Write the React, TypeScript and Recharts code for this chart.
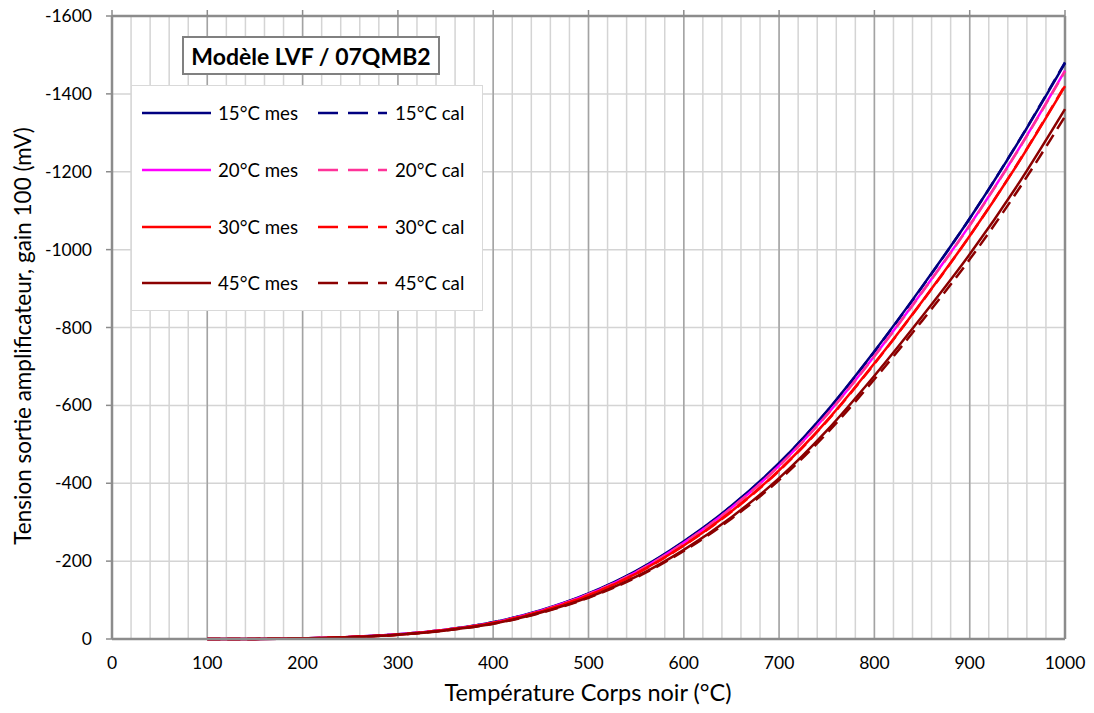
import React from 'react';
import { LineChart, Line, XAxis, YAxis, CartesianGrid, ReferenceLine } from 'recharts';

const temperatures = [100, 150, 200, 250, 300, 350, 400, 450, 500, 550, 600, 650, 700, 750, 800, 850, 900, 950, 1000];
const mes15 = [0, -0.3, -1.5, -5, -12, -24, -43, -74, -117, -175, -251, -342, -452, -585, -739, -905, -1080, -1272, -1479];
const cal15 = [0, -0.3, -1.5, -5, -12, -24, -43, -73, -116, -174, -250, -341, -451, -584, -738, -904, -1080, -1273, -1481];
const mes20 = [0, -0.3, -1.5, -5, -12, -24, -42, -73, -115, -172, -247, -337, -445, -576, -727, -891, -1063, -1253, -1460];
const cal20 = [0, -0.3, -1.5, -5, -12, -24, -42, -72, -115, -172, -246, -336, -444, -575, -726, -890, -1062, -1252, -1458];
const mes30 = [0, -0.3, -1.4, -5, -11, -23, -41, -71, -112, -168, -240, -328, -433, -560, -708, -867, -1035, -1219, -1420];
const cal30 = [0, -0.3, -1.4, -5, -11, -23, -41, -71, -112, -167, -240, -327, -432, -559, -707, -866, -1035, -1220, -1422];
const mes45 = [0, -0.3, -1.3, -4.5, -11, -22, -39, -68, -107, -160, -229, -313, -413, -535, -676, -828, -988, -1165, -1361];
const cal45 = [0, -0.3, -1.3, -4.5, -11, -22, -39, -67, -106, -158, -226, -309, -408, -528, -667, -817, -975, -1150, -1342];

const xMajorTicks = [0, 100, 200, 300, 400, 500, 600, 700, 800, 900, 1000];
const xMinorTicks = [0, 20, 40, 60, 80, 100, 120, 140, 160, 180, 200, 220, 240, 260, 280, 300, 320, 340, 360, 380, 400, 420, 440, 460, 480, 500, 520, 540, 560, 580, 600, 620, 640, 660, 680, 700, 720, 740, 760, 780, 800, 820, 840, 860, 880, 900, 920, 940, 960, 980, 1000];
const yTicks = [-1600, -1400, -1200, -1000, -800, -600, -400, -200, 0];

const seriesDefs = [
  { key: 'mes15', name: '15°C mes', values: mes15, color: '#000080', dashed: false },
  { key: 'cal15', name: '15°C cal', values: cal15, color: '#000080', dashed: true },
  { key: 'mes20', name: '20°C mes', values: mes20, color: '#FF00FF', dashed: false },
  { key: 'cal20', name: '20°C cal', values: cal20, color: '#FF3399', dashed: true },
  { key: 'mes30', name: '30°C mes', values: mes30, color: '#FF0000', dashed: false },
  { key: 'cal30', name: '30°C cal', values: cal30, color: '#FF0000', dashed: true },
  { key: 'mes45', name: '45°C mes', values: mes45, color: '#8B0000', dashed: false },
  { key: 'cal45', name: '45°C cal', values: cal45, color: '#8B0000', dashed: true },
];

const data = temperatures.map((t, i) => {
  const row: Record<string, number> = { t };
  seriesDefs.forEach((s) => {
    row[s.key] = s.values[i];
  });
  return row;
});

const FONT = 'Lato, "Open Sans", sans-serif';
const AXIS_GRAY = '#8c8c8c';

const XTick = (props: any) => {
  const { x, y, payload } = props;
  if (payload.value % 100 !== 0) return <g />;
  return (
    <text x={x} y={y} dy={22} textAnchor="middle" fontFamily={FONT} fontSize={17.5} fill="#000">
      {payload.value}
    </text>
  );
};

const YTick = (props: any) => {
  const { x, y, payload } = props;
  return (
    <text x={x - 12} y={y} dy={6} textAnchor="end" fontFamily={FONT} fontSize={17.5} fill="#000">
      {payload.value}
    </text>
  );
};

const EmptyTick = () => <g />;

const legendRows = [
  ['mes15', 'cal15'],
  ['mes20', 'cal20'],
  ['mes30', 'cal30'],
  ['mes45', 'cal45'],
];
const rowY = [113, 170, 227, 283];

export default function App() {
  return (
    <div style={{ position: 'absolute', left: 0, top: 0, width: 1094, height: 713, background: '#fff', fontFamily: FONT }}>
      <LineChart width={1094} height={713} data={data} margin={{ top: 0, right: 29, bottom: 0, left: 0 }}>
        <CartesianGrid stroke="#d4d4d4" strokeWidth={1.5} />
        {xMajorTicks.map((v) => (
          <ReferenceLine key={'maj' + v} x={v} stroke="#a3a3a3" strokeWidth={1.5} />
        ))}
        <XAxis
          dataKey="t"
          type="number"
          domain={[0, 1000]}
          ticks={xMinorTicks}
          interval={0}
          tick={<XTick />}
          tickLine={false}
          axisLine={{ stroke: AXIS_GRAY, strokeWidth: 2.5 }}
          height={74}
        />
        <XAxis
          xAxisId="top"
          orientation="top"
          dataKey="t"
          type="number"
          domain={[0, 1000]}
          ticks={xMajorTicks}
          interval={0}
          tick={<EmptyTick />}
          tickSize={6}
          tickLine={{ stroke: AXIS_GRAY, strokeWidth: 1.5 }}
          axisLine={{ stroke: AXIS_GRAY, strokeWidth: 2.5 }}
          height={16}
        />
        <YAxis
          type="number"
          domain={[-1600, 0]}
          reversed
          ticks={yTicks}
          interval={0}
          tick={<YTick />}
          tickSize={6}
          tickLine={{ stroke: AXIS_GRAY, strokeWidth: 1.5 }}
          axisLine={{ stroke: AXIS_GRAY, strokeWidth: 2.5 }}
          width={112}
        />
        <ReferenceLine x={1000} stroke={AXIS_GRAY} strokeWidth={2.5} />
        {seriesDefs.map((s) => (
          <Line
            key={s.key}
            dataKey={s.key}
            type="monotone"
            stroke={s.color}
            strokeWidth={2.5}
            strokeDasharray={s.dashed ? '13 7' : undefined}
            dot={false}
            activeDot={false}
            isAnimationActive={false}
          />
        ))}
      </LineChart>

      <div
        style={{
          position: 'absolute', left: 182, top: 36, width: 258, height: 39, boxSizing: 'border-box',
          border: '2px solid #808080', background: '#fff', display: 'flex', alignItems: 'center',
          justifyContent: 'center', fontWeight: 700, fontSize: 23, color: '#000', whiteSpace: 'nowrap',
        }}
      >
        Modèle LVF / 07QMB2
      </div>

      <div
        style={{
          position: 'absolute', left: 131, top: 85, width: 352, height: 226, boxSizing: 'border-box',
          border: '1px solid #d9d9d9', background: '#fff',
        }}
      />
      {legendRows.map((row, ri) =>
        row.map((k, ci) => {
          const s = seriesDefs.find((d) => d.key === k)!;
          const lx = ci === 0 ? 142 : 318;
          const tx = ci === 0 ? 218 : 395;
          return (
            <React.Fragment key={k}>
              <svg style={{ position: 'absolute', left: lx, top: rowY[ri] - 3 }} width={69} height={6}>
                <line x1={0} y1={3} x2={69} y2={3} stroke={s.color} strokeWidth={2.5} strokeDasharray={s.dashed ? '20 10' : undefined} />
              </svg>
              <div style={{ position: 'absolute', left: tx, top: rowY[ri] - 12, height: 24, lineHeight: '24px', fontSize: 18.7, color: '#000', whiteSpace: 'nowrap' }}>
                {s.name}
              </div>
            </React.Fragment>
          );
        })
      )}

      <div style={{ position: 'absolute', left: 338, top: 678, width: 500, textAlign: 'center', fontSize: 23.5, color: '#000', lineHeight: '28px', whiteSpace: 'nowrap' }}>
        Température Corps noir (°C)
      </div>
      <div
        style={{
          position: 'absolute', left: 23 - 300, top: 336 - 14, width: 600, height: 28, lineHeight: '28px', textAlign: 'center',
          fontSize: 22.5, color: '#000', transform: 'rotate(-90deg)', transformOrigin: '300px 14px', whiteSpace: 'nowrap',
        }}
      >
        Tension sortie amplificateur, gain 100 (mV)
      </div>
    </div>
  );
}
